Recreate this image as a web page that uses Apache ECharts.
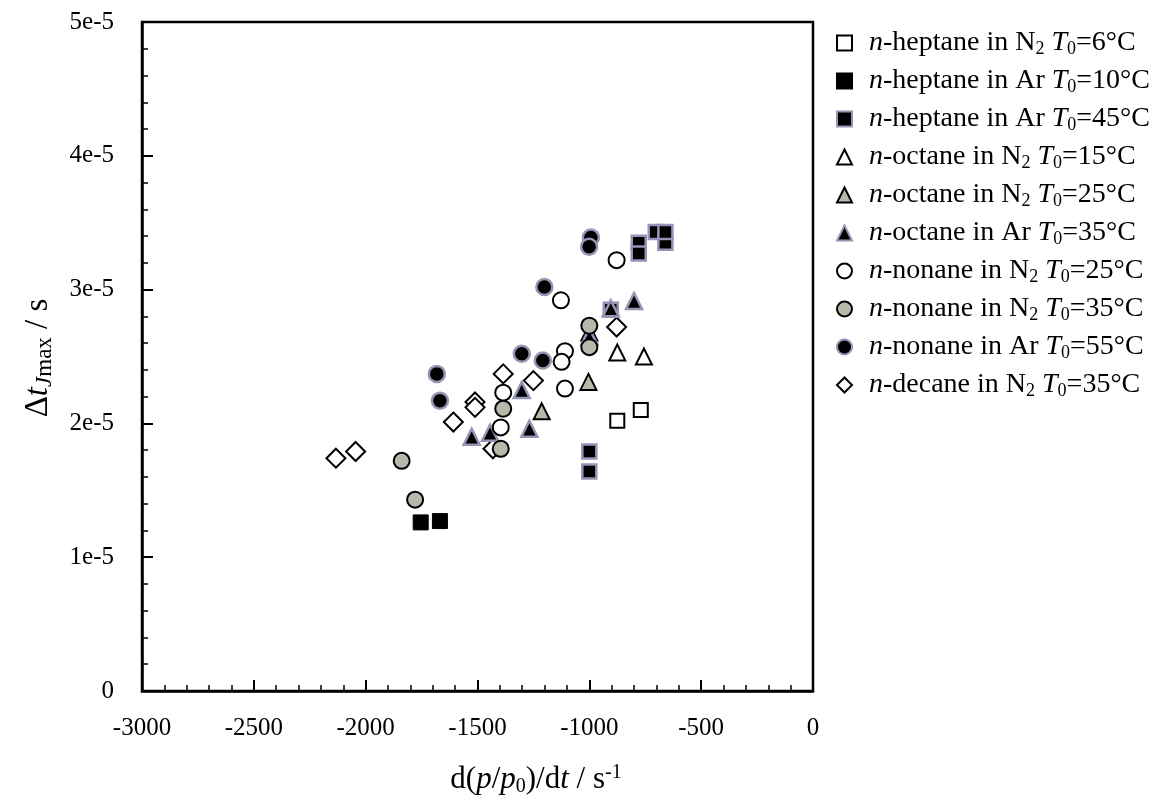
<!DOCTYPE html>
<html>
<head>
<meta charset="utf-8">
<script src="https://cdn.jsdelivr.net/npm/echarts@6/dist/echarts.min.js"></script>
<style>
  html, body { margin: 0; padding: 0; background: #fff; }
  #chart { width: 1168px; height: 802px; }
</style>
</head>
<body>
<div id="chart"></div>
<script>
// Pressure-rise rate d(p/p0)/dt [1/s] vs. delay time Δt_Jmax [s]
const heptaneN2_6  = [[-875, 2.02e-5], [-770, 2.10e-5]];
const heptaneAr_10 = [[-1754, 1.26e-5], [-1668, 1.27e-5]];
const heptaneAr_45 = [[-1000, 1.79e-5], [-1000, 1.64e-5], [-779, 3.35e-5], [-779, 3.27e-5],
                      [-703, 3.43e-5], [-660, 3.35e-5], [-660, 3.43e-5], [-904, 2.85e-5]];
const octaneN2_15  = [[-875, 2.53e-5], [-756, 2.50e-5]];
const octaneN2_25  = [[-1004, 2.31e-5], [-1213, 2.09e-5], [-1000, 2.68e-5]];
const octaneAr_35  = [[-904, 2.86e-5], [-800, 2.915e-5], [-1302, 2.25e-5], [-1268, 1.96e-5],
                      [-1444, 1.93e-5], [-1526, 1.90e-5], [-1000, 2.65e-5]];
const nonaneN2_25  = [[-878, 3.22e-5], [-1127, 2.92e-5], [-1109, 2.54e-5], [-1124, 2.46e-5],
                      [-1109, 2.26e-5], [-1385, 2.23e-5], [-1396, 1.97e-5]];
const nonaneN2_35  = [[-1839, 1.72e-5], [-1779, 1.43e-5], [-1385, 2.11e-5], [-1396, 1.81e-5],
                      [-1000, 2.73e-5], [-1000, 2.57e-5]];
const nonaneAr_55  = [[-1682, 2.37e-5], [-1668, 2.17e-5], [-1302, 2.52e-5], [-1208, 2.47e-5],
                      [-1201, 3.02e-5], [-993, 3.39e-5], [-1001, 3.32e-5]];
const decaneN2_35  = [[-2133, 1.74e-5], [-2045, 1.79e-5], [-1608, 2.01e-5], [-1511, 2.16e-5],
                      [-1511, 2.12e-5], [-1385, 2.37e-5], [-1250, 2.32e-5], [-878, 2.72e-5],
                      [-1431, 1.81e-5]];

const xTickLabels = ['-3000', '-2500', '-2000', '-1500', '-1000', '-500', '0'];
const yTickLabels = ['0', '1e-5', '2e-5', '3e-5', '4e-5', '5e-5'];

// legend entries (rich-text markup per series)
const seriesNames = [
  'hN2_6', 'hAr_10', 'hAr_45', 'oN2_15', 'oN2_25', 'oAr_35', 'nN2_25', 'nN2_35', 'nAr_55', 'dN2_35'
];
const seriesLabels = {
  hN2_6:  '{it|n}-heptane in N{sub|2} {it|T}{sub|0}=6°C',
  hAr_10: '{it|n}-heptane in Ar {it|T}{sub|0}=10°C',
  hAr_45: '{it|n}-heptane in Ar {it|T}{sub|0}=45°C',
  oN2_15: '{it|n}-octane in N{sub|2} {it|T}{sub|0}=15°C',
  oN2_25: '{it|n}-octane in N{sub|2} {it|T}{sub|0}=25°C',
  oAr_35: '{it|n}-octane in Ar {it|T}{sub|0}=35°C',
  nN2_25: '{it|n}-nonane in N{sub|2} {it|T}{sub|0}=25°C',
  nN2_35: '{it|n}-nonane in N{sub|2} {it|T}{sub|0}=35°C',
  nAr_55: '{it|n}-nonane in Ar {it|T}{sub|0}=55°C',
  dN2_35: '{it|n}-decane in N{sub|2} {it|T}{sub|0}=35°C'
};

const FONT = '"Liberation Serif", "Times New Roman", serif';
const GRAY = '#b9b9ab';
const PURPLE = '#9494b4';

function scatter(name, data, symbol, size, fill, border, bw) {
  return {
    name, type: 'scatter', data, symbol, symbolSize: size,
    itemStyle: { color: fill, borderColor: border, borderWidth: bw, opacity: 1 },
    emphasis: { disabled: true }
  };
}

const series = [
  scatter('dN2_35', decaneN2_35, 'diamond', 19, '#fff', '#000', 2),
  scatter('hN2_6', heptaneN2_6, 'rect', 14, '#fff', '#000', 2),
  scatter('hAr_10', heptaneAr_10, 'rect', 15, '#000', '#000', 1),
  scatter('hAr_45', heptaneAr_45, 'rect', 14, '#000', PURPLE, 2.5),
  scatter('oN2_15', octaneN2_15, 'triangle', 16, '#fff', '#000', 2),
  scatter('oN2_25', octaneN2_25, 'triangle', 16, GRAY, '#000', 2),
  scatter('oAr_35', octaneAr_35, 'triangle', 16, '#000', PURPLE, 2.5),
  scatter('nN2_25', nonaneN2_25, 'circle', 16, '#fff', '#000', 2),
  scatter('nN2_35', nonaneN2_35, 'circle', 16, GRAY, '#000', 2),
  scatter('nAr_55', nonaneAr_55, 'circle', 16, '#000', PURPLE, 2.5)
];

const chart = echarts.init(document.getElementById('chart'), null, { renderer: 'canvas' });

chart.setOption({
  backgroundColor: '#fff',
  animation: false,
  grid: {
    left: 142, right: 355, top: 22, bottom: 111,
    show: true, borderColor: '#000', borderWidth: 2.5, backgroundColor: 'transparent'
  },
  xAxis: {
    type: 'value', min: -3000, max: 0, interval: 500,
    axisLine: { show: true, onZero: false, lineStyle: { color: '#000', width: 2.5 } },
    axisTick: { show: true, inside: true, length: 11, lineStyle: { color: '#000', width: 2 } },
    minorTick: { show: true, splitNumber: 5, length: 6, lineStyle: { color: '#000', width: 1.5 } },
    splitLine: { show: false },
    axisLabel: {
      color: '#000', fontFamily: FONT, fontSize: 25, margin: 25,
      formatter: (v) => xTickLabels[Math.round((v + 3000) / 500)]
    }
  },
  yAxis: {
    type: 'value', min: 0, max: 5e-5, interval: 1e-5,
    axisLine: { show: true, onZero: false, lineStyle: { color: '#000', width: 2.5 } },
    axisTick: { show: true, inside: true, length: 11, lineStyle: { color: '#000', width: 2 } },
    minorTick: { show: true, splitNumber: 5, length: 6, lineStyle: { color: '#000', width: 1.5 } },
    splitLine: { show: false },
    axisLabel: {
      color: '#000', fontFamily: FONT, fontSize: 25, margin: 28,
      formatter: (v) => yTickLabels[Math.round(v / 1e-5)]
    }
  },
  legend: {
    data: seriesNames,
    orient: 'vertical', left: 831, top: 23,
    itemWidth: 15, itemHeight: 15, itemGap: 8,
    inactiveColor: '#000',
    selectedMode: false,
    formatter: (n) => seriesLabels[n],
    textStyle: {
      color: '#000', fontFamily: FONT, fontSize: 28, lineHeight: 30, padding: [0, 0, 0, 12],
      rich: {
        it:  { fontFamily: FONT, fontSize: 28, fontStyle: 'italic', color: '#000', lineHeight: 30 },
        sub: { fontFamily: FONT, fontSize: 18, color: '#000', verticalAlign: 'bottom', lineHeight: 12 }
      }
    }
  },
  graphic: [
    {
      type: 'text', x: 536, y: 780,
      style: {
        text: 'd({it|p}/{it|p}{sub|0}){n|/d}{it|t}{n| / s}{sup|-1}',
        fill: '#000', font: '31px ' + FONT, align: 'center', verticalAlign: 'middle',
        rich: {
          n:   { fontFamily: FONT, fontSize: 31, fill: '#000', lineHeight: 34 },
          it:  { fontFamily: FONT, fontSize: 31, fontStyle: 'italic', fill: '#000', lineHeight: 34 },
          sub: { fontFamily: FONT, fontSize: 20, fill: '#000', verticalAlign: 'bottom', lineHeight: 14 },
          sup: { fontFamily: FONT, fontSize: 20, fill: '#000', verticalAlign: 'top', lineHeight: 14 }
        }
      }
    },
    {
      type: 'text', x: 38, y: 358, rotation: Math.PI / 2,
      style: {
        text: 'Δ{it|t}{subi|J}{sub|max}{n| / s}',
        fill: '#000', font: '33px ' + FONT, align: 'center', verticalAlign: 'middle',
        rich: {
          n:    { fontFamily: FONT, fontSize: 33, fill: '#000', lineHeight: 36 },
          it:   { fontFamily: FONT, fontSize: 33, fontStyle: 'italic', fill: '#000', lineHeight: 36 },
          subi: { fontFamily: FONT, fontSize: 23, fontStyle: 'italic', fill: '#000', verticalAlign: 'bottom', lineHeight: 16 },
          sub:  { fontFamily: FONT, fontSize: 23, fill: '#000', verticalAlign: 'bottom', lineHeight: 16 }
        }
      }
    }
  ],
  series
});
</script>
</body>
</html>
